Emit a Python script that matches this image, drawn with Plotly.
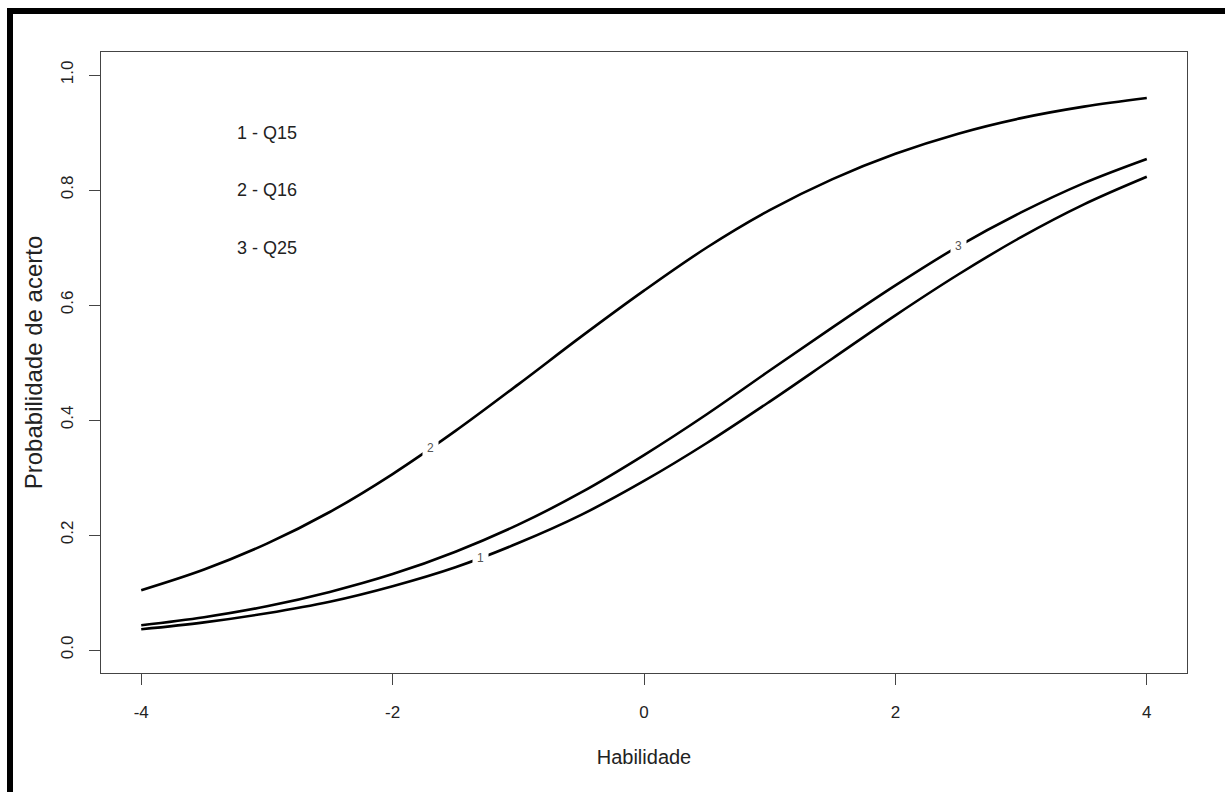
import numpy as np
import plotly.graph_objects as go

# Ability grid and probability of a correct answer for each item
habilidade = [-4.0, -3.5, -3.0, -2.5, -2.0, -1.5, -1.0, -0.5, 0.0,
              0.5, 1.0, 1.5, 2.0, 2.5, 3.0, 3.5, 4.0]
q15 = [0.036, 0.048, 0.064, 0.084, 0.111, 0.144, 0.186, 0.235, 0.294,
       0.360, 0.432, 0.507, 0.582, 0.653, 0.718, 0.775, 0.823]
q16 = [0.104, 0.140, 0.185, 0.240, 0.306, 0.381, 0.462, 0.545, 0.625,
       0.700, 0.765, 0.819, 0.863, 0.898, 0.925, 0.945, 0.960]
q25 = [0.043, 0.057, 0.076, 0.101, 0.132, 0.171, 0.218, 0.274, 0.339,
       0.410, 0.486, 0.561, 0.634, 0.702, 0.761, 0.812, 0.854]

curves = [("1", q15), ("2", q16), ("3", q25)]
label_x = {"1": -1.3, "2": -1.7, "3": 2.5}
legend_text = ["1 - Q15", "2 - Q16", "3 - Q25"]
legend_y = [0.9, 0.8, 0.7]

x_ticks = [-4, -2, 0, 2, 4]
y_ticks = [0.0, 0.2, 0.4, 0.6, 0.8, 1.0]

FONT = "Liberation Sans, Arial, Helvetica, sans-serif"
INK = "#222222"

fig = go.Figure()
for name, vals in curves:
    fig.add_trace(go.Scatter(
        x=habilidade, y=vals, mode="lines", name=name,
        line=dict(color="black", width=2.6, shape="spline", smoothing=1.0),
        showlegend=False, hoverinfo="skip"))

# Curve labels sitting in a small gap on each line
for name, vals in curves:
    lx = label_x[name]
    ly = float(np.interp(lx, habilidade, vals))
    fig.add_annotation(x=lx, y=ly, text=name, showarrow=False,
                       font=dict(family=FONT, size=12, color="#555555"),
                       bgcolor="white", borderpad=4)

# Item key
for txt, yy in zip(legend_text, legend_y):
    fig.add_annotation(x=-3, y=yy, text=txt, showarrow=False,
                       font=dict(family=FONT, size=18, color=INK),
                       xanchor="center", yanchor="middle")

# Heavy outer frame on the top and left edges of the figure
L, T, W, H = 101, 52, 1086, 621
def px(xp):
    return (xp - L) / W
def py(yp):
    return (T + H - yp) / H
fig.add_shape(type="line", xref="paper", yref="paper",
              x0=px(10), x1=px(1230), y0=py(11), y1=py(11),
              line=dict(color="black", width=6), layer="above")
fig.add_shape(type="line", xref="paper", yref="paper",
              x0=px(10), x1=px(10), y0=py(8), y1=py(800),
              line=dict(color="black", width=6), layer="above")

axis_common = dict(showgrid=False, zeroline=False, showline=True, mirror=True,
                   linecolor="#444444", linewidth=1.2, ticks="outside",
                   ticklen=11, tickwidth=1.2, tickcolor="#444444",
                   tickfont=dict(family=FONT, size=17, color=INK))

fig.update_layout(
    width=1225, height=792,
    margin=dict(l=L, r=1225 - L - W, t=T, b=792 - T - H),
    paper_bgcolor="white", plot_bgcolor="white",
    xaxis=dict(range=[-4.32, 4.32], tickvals=x_ticks,
               ticktext=[str(v) for v in x_ticks], ticklabelstandoff=12,
               title=dict(text="Habilidade", standoff=29,
                          font=dict(family=FONT, size=20, color=INK)),
               **axis_common),
    yaxis=dict(range=[-0.04, 1.04], tickvals=y_ticks,
               ticktext=[f"{v:.1f}" for v in y_ticks], tickangle=-90,
               ticklabelstandoff=9,
               title=dict(text="Probabilidade de acerto", standoff=8,
                          font=dict(family=FONT, size=24, color=INK)),
               **axis_common),
)

fig.write_html("out.html")
